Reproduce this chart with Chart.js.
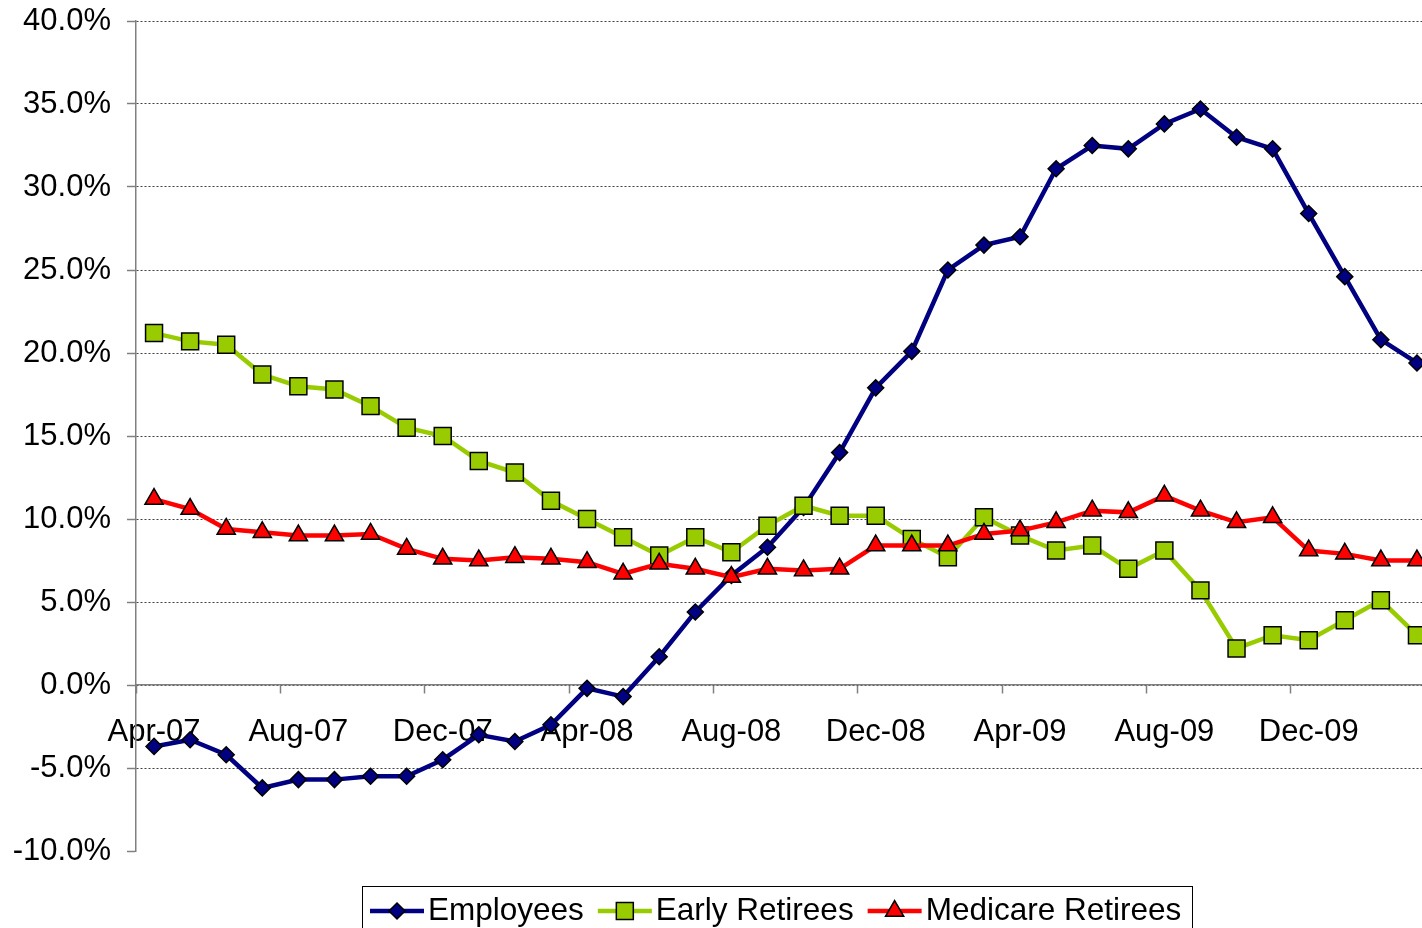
<!DOCTYPE html>
<html>
<head>
<meta charset="utf-8">
<script src="https://cdn.jsdelivr.net/npm/chart.js@4.4.1/dist/chart.umd.min.js"></script>
<style>
  html, body { margin: 0; padding: 0; background: #fff; overflow: hidden; }
  #wrap { position: absolute; left: 0; top: 0; width: 1460px; height: 960px; }
</style>
</head>
<body>
<div id="wrap"><canvas id="chart" width="1460" height="960"></canvas></div>
<script>
// Monthly categories, Apr-07 .. Mar-10
const months = [
  'Apr-07', 'May-07', 'Jun-07', 'Jul-07', 'Aug-07', 'Sep-07', 'Oct-07', 'Nov-07', 'Dec-07',
  'Jan-08', 'Feb-08', 'Mar-08', 'Apr-08', 'May-08', 'Jun-08', 'Jul-08', 'Aug-08', 'Sep-08',
  'Oct-08', 'Nov-08', 'Dec-08', 'Jan-09', 'Feb-09', 'Mar-09', 'Apr-09', 'May-09', 'Jun-09',
  'Jul-09', 'Aug-09', 'Sep-09', 'Oct-09', 'Nov-09', 'Dec-09', 'Jan-10', 'Feb-10', 'Mar-10'
];

const employees = [
  -3.7, -3.3, -4.2, -6.2, -5.7, -5.7, -5.5, -5.5, -4.5, -3.0, -3.4, -2.4,
  -0.2, -0.7, 1.7, 4.4, 6.6, 8.3, 10.7, 14.0, 17.9, 20.1, 25.0, 26.5,
  27.0, 31.1, 32.5, 32.3, 33.8, 34.7, 33.0, 32.3, 28.4, 24.6, 20.8, 19.4
];
const earlyRetirees = [
  21.2, 20.7, 20.5, 18.7, 18.0, 17.8, 16.8, 15.5, 15.0, 13.5, 12.8, 11.1,
  10.0, 8.9, 7.8, 8.9, 8.0, 9.6, 10.8, 10.2, 10.2, 8.8, 7.7, 10.1,
  9.0, 8.1, 8.4, 7.0, 8.1, 5.7, 2.2, 3.0, 2.7, 3.9, 5.1, 3.0
];
const medicareRetirees = [
  11.2, 10.6, 9.4, 9.2, 9.0, 9.0, 9.1, 8.2, 7.6, 7.5, 7.7, 7.6,
  7.4, 6.7, 7.3, 7.0, 6.5, 7.0, 6.9, 7.0, 8.4, 8.4, 8.4, 9.1,
  9.3, 9.8, 10.5, 10.4, 11.4, 10.5, 9.8, 10.1, 8.1, 7.9, 7.5, 7.5
];

const seriesNames = ['Employees', 'Early Retirees', 'Medicare Retirees'];
const yMin = -10, yMax = 40, yStep = 5;
const labelEvery = 4;

const FONT = '"Liberation Sans", Arial, sans-serif';
Chart.defaults.font.family = FONT;
Chart.defaults.color = '#000';

// draws a small marker for the legend samples
function legendMarker(ctx, style, x, y, r) {
  ctx.beginPath();
  if (style === 'rectRot') {
    ctx.moveTo(x, y - r); ctx.lineTo(x + r, y); ctx.lineTo(x, y + r); ctx.lineTo(x - r, y);
  } else if (style === 'rect') {
    const s = Math.SQRT1_2 * r;
    ctx.rect(x - s, y - s, 2 * s, 2 * s);
  } else {
    ctx.moveTo(x, y - r);
    ctx.lineTo(x + r * Math.sin(2 * Math.PI / 3), y + r / 2);
    ctx.lineTo(x - r * Math.sin(2 * Math.PI / 3), y + r / 2);
  }
  ctx.closePath();
  ctx.fill();
  ctx.stroke();
}

// Excel-style boxed legend under the plot
const boxLegend = {
  id: 'boxLegend',
  afterDraw(chart) {
    const ctx = chart.ctx;
    ctx.save();
    ctx.strokeStyle = '#000';
    ctx.lineWidth = 1;
    ctx.strokeRect(362.5, 886.5, 830, 90);
    ctx.font = '31.5px ' + FONT;
    ctx.textBaseline = 'middle';
    ctx.textAlign = 'left';
    const y = 911;
    let x = 370;
    chart.data.datasets.forEach(ds => {
      ctx.strokeStyle = ds.borderColor;
      ctx.lineWidth = ds.borderWidth;
      ctx.beginPath();
      ctx.moveTo(x, y);
      ctx.lineTo(x + 54, y);
      ctx.stroke();
      ctx.fillStyle = ds.pointBackgroundColor;
      ctx.strokeStyle = ds.pointBorderColor;
      ctx.lineWidth = ds.pointBorderWidth;
      legendMarker(ctx, ds.pointStyle, x + 27, y, ds.pointRadius);
      ctx.fillStyle = '#000';
      ctx.fillText(ds.label, x + 58, y);
      x += 58 + ctx.measureText(ds.label).width + 14;
    });
    ctx.restore();
  }
};

new Chart(document.getElementById('chart'), {
  type: 'line',
  data: {
    labels: months,
    datasets: [
      {
        label: seriesNames[0], data: employees, order: 3,
        borderColor: '#000080', borderWidth: 4.5,
        pointStyle: 'rectRot', pointRadius: 8,
        pointBackgroundColor: '#000080', pointBorderColor: '#000', pointBorderWidth: 1.5
      },
      {
        label: seriesNames[1], data: earlyRetirees, order: 2,
        borderColor: '#99CC00', borderWidth: 4.5,
        pointStyle: 'rect', pointRadius: 12,
        pointBackgroundColor: '#99CC00', pointBorderColor: '#000', pointBorderWidth: 1.5
      },
      {
        label: seriesNames[2], data: medicareRetirees, order: 1,
        borderColor: '#FF0000', borderWidth: 4.5,
        pointStyle: 'triangle', pointRadius: 10.5,
        pointBackgroundColor: '#FF0000', pointBorderColor: '#000', pointBorderWidth: 1.5
      }
    ]
  },
  options: {
    responsive: false,
    animation: false,
    layout: { padding: { left: 0, top: 21, right: 25, bottom: 109 } },
    plugins: { legend: { display: false }, tooltip: { enabled: false } },
    elements: { line: { tension: 0 } },
    scales: {
      x: {
        position: { y: 0 },
        offset: true,
        grid: {
          offset: true,
          drawOnChartArea: false,
          tickLength: 8,
          tickWidth: 1.5,
          tickColor: c => (c.index % labelEvery === 0 ? '#808080' : 'rgba(0,0,0,0)')
        },
        border: { color: '#808080', width: 1.5 },
        ticks: {
          autoSkip: false,
          maxRotation: 0,
          padding: 21,
          font: { size: 31 },
          color: '#000',
          callback: (v, i) => (i % labelEvery === 0 ? months[i] : '')
        },
        afterFit: s => {
          s.height = 0;
          s.paddingTop = s.paddingBottom = s.paddingLeft = s.paddingRight = 0;
        }
      },
      y: {
        min: yMin,
        max: yMax,
        grid: {
          color: c => (c.tick && c.tick.value === yMin ? 'rgba(0,0,0,0)' : '#404040'),
          lineWidth: 1,
          tickLength: 9,
          tickWidth: 1.5,
          tickColor: '#808080',
          tickBorderDash: []
        },
        border: { color: '#808080', width: 1.5, dash: [2, 2] },
        ticks: {
          stepSize: yStep,
          padding: 16,
          font: { size: 31 },
          color: '#000',
          callback: v => v.toFixed(1) + '%'
        },
        afterFit: s => {
          s.width = 136;
          s.paddingTop = s.paddingBottom = s.paddingLeft = s.paddingRight = 0;
        }
      }
    }
  },
  plugins: [boxLegend]
});
</script>
</body>
</html>
